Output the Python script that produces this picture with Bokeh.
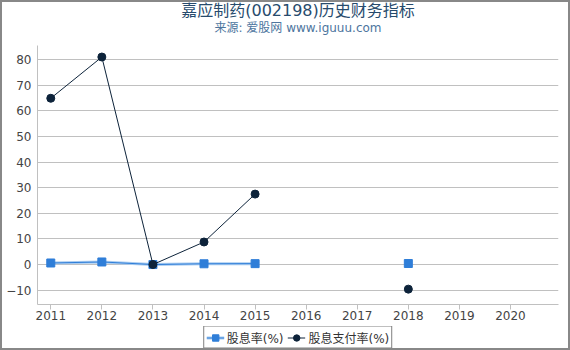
from bokeh.plotting import figure
from bokeh.layouts import column
from bokeh.models import (Label, Legend, LegendItem, FixedTicker, Range1d)
from bokeh.embed import file_html
from bokeh.resources import INLINE

years = [2011, 2012, 2013, 2014, 2015, 2016, 2017, 2018, 2019, 2020]
dividend_yield = [0.6, 1.0, 0.0, 0.3, 0.35, float("nan"), float("nan"), 0.4, float("nan"), float("nan")]
payout_ratio = [64.9, 81.0, 0.0, 8.8, 27.5, float("nan"), float("nan"), -9.6, float("nan"), float("nan")]
y_ticks = [-10, 0, 10, 20, 30, 40, 50, 60, 70, 80]
title_text = "嘉应制药(002198)历史财务指标"
subtitle_text = "来源: 爱股网 www.iguuu.com"
label_yield = "股息率(%)"
label_payout = "股息支付率(%)"

FONT = "DejaVu Sans, Noto Sans CJK SC"
blue = "#2f7ed8"
blue_light = "#a8cbf0"
dark = "#0d233a"

# ---- title strip ----
head = figure(width=566, height=43, output_backend="svg", toolbar_location=None,
              x_range=Range1d(0, 566), y_range=Range1d(0, 43),
              x_axis_location=None, y_axis_location=None,
              min_border_left=0, min_border_right=0, min_border_top=0, min_border_bottom=0)
head.grid.visible = False
head.outline_line_color = None
head.title.visible = False
head.add_layout(Label(x=283, y=35.5, text=title_text, text_align="center", text_baseline="middle",
                      text_font=FONT, text_font_size="16px", text_color="#274b6d"))
head.add_layout(Label(x=283, y=17.5, text=subtitle_text, text_align="center", text_baseline="middle",
                      text_font=FONT, text_font_size="12px", text_color="#4d759e"))

# ---- main chart ----
p = figure(width=566, height=281, output_backend="svg", toolbar_location=None,
           x_range=Range1d(2010.74, 2020.94), y_range=Range1d(-15.6, 85.5),
           min_border_left=35, min_border_right=10, min_border_top=0, min_border_bottom=22)
p.title.visible = False
p.outline_line_color = None
p.background_fill_color = "white"
p.border_fill_color = "white"

p.xgrid.visible = False
p.ygrid.grid_line_color = "#c0c0c0"
p.ygrid.grid_line_width = 1

p.yaxis.ticker = FixedTicker(ticks=y_ticks)
p.xaxis.ticker = FixedTicker(ticks=years)
for ax in (p.xaxis[0], p.yaxis[0]):
    ax.axis_line_color = "#c0c0c0"
    ax.major_tick_line_color = "#c0c0c0"
    ax.minor_tick_line_color = None
    ax.major_label_text_font = FONT
    ax.major_label_text_font_size = "12px"
    ax.major_label_text_color = "#444444"
p.yaxis.major_tick_out = 0
p.yaxis.major_tick_in = 0
p.yaxis.major_label_standoff = 6
p.xaxis.major_tick_out = 5
p.xaxis.major_tick_in = 0
p.xaxis.major_label_standoff = 1

p.line(years, dividend_yield, line_color=blue_light, line_width=3)
p.line(years, dividend_yield, line_color=blue, line_width=1)
p.scatter(years, dividend_yield, marker="square", size=8, fill_color=blue, line_color=blue)
p.line(years, payout_ratio, line_color=dark, line_width=1)
p.scatter(years, payout_ratio, marker="circle", size=8, fill_color=dark, line_color=dark)

# ---- legend strip ----
lg = figure(width=566, height=22, output_backend="svg", toolbar_location=None,
            x_range=Range1d(0, 1), y_range=Range1d(0, 1),
            x_axis_location=None, y_axis_location=None,
            min_border_left=0, min_border_right=0, min_border_top=0, min_border_bottom=0)
lg.grid.visible = False
lg.outline_line_color = None
lg.title.visible = False
# same series drawn out of this strip's view, only used for the legend swatches
ll0 = lg.line(years, dividend_yield, line_color=blue_light, line_width=3)
ll1 = lg.line(years, dividend_yield, line_color=blue, line_width=1)
ls1 = lg.scatter(years, dividend_yield, marker="square", size=8, fill_color=blue, line_color=blue)
ll2 = lg.line(years, payout_ratio, line_color=dark, line_width=1)
ls2 = lg.scatter(years, payout_ratio, marker="circle", size=8, fill_color=dark, line_color=dark)

legend = Legend(items=[LegendItem(label=label_yield, renderers=[ll0, ll1, ls1]),
                       LegendItem(label=label_payout, renderers=[ll2, ls2])],
                orientation="horizontal", location="center",
                label_text_font=FONT, label_text_font_size="12px", label_text_color="#333333",
                border_line_color="black", border_line_width=1,
                padding=2, margin=0, spacing=4, glyph_width=18, glyph_height=16,
                label_height=16, label_standoff=3, background_fill_alpha=1)
lg.add_layout(legend, "center")

layout = column(head, p, lg, spacing=0, styles={"border": "2px solid #888888"})

open("out.html", "w").write(file_html(layout, INLINE))
